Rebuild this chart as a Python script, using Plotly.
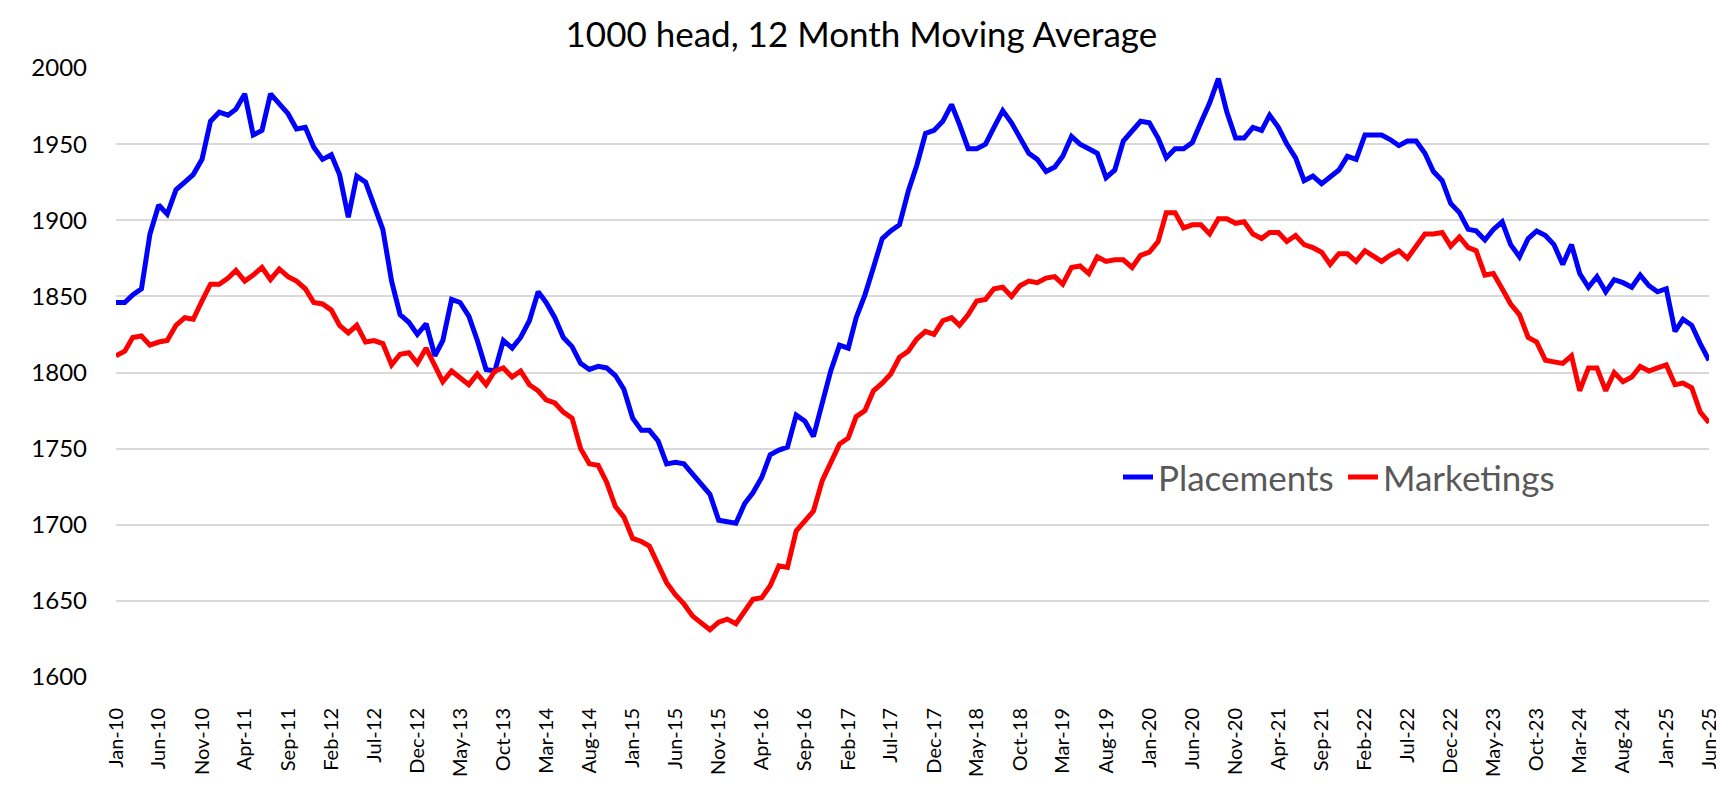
import pandas as pd
import plotly.graph_objects as go

# monthly, Jan-2010 .. Jun-2025 (12 month moving average, 1000 head)
start_month = "2010-01-01"

placements = [
    1846, 1846, 1851, 1855, 1891, 1910, 1904, 1920, 1925, 1930, 1940, 1965,
    1971, 1969, 1973, 1983, 1956, 1959, 1983, 1976, 1970, 1960, 1961, 1948,
    1940, 1943, 1930, 1902, 1929, 1925, 1910, 1894, 1860, 1838, 1833, 1825,
    1832, 1811, 1821, 1848, 1846, 1837, 1821, 1802, 1801, 1821, 1816, 1823,
    1834, 1853, 1846, 1836, 1823, 1817, 1806, 1802, 1804, 1803, 1798, 1789,
    1770, 1762, 1762, 1755, 1740, 1741, 1740, 1733, 1726, 1720, 1703, 1702,
    1701, 1714, 1721, 1731, 1746, 1749, 1751, 1772, 1768, 1758, 1779, 1801,
    1818, 1816, 1836, 1851, 1869, 1888, 1893, 1897, 1919, 1936, 1957, 1959,
    1965, 1976, 1963, 1947, 1947, 1950, 1961, 1972, 1964, 1954, 1944, 1940,
    1932, 1935, 1942, 1955, 1950, 1947, 1944, 1928, 1933, 1952, 1959, 1965,
    1964, 1954, 1941, 1947, 1947, 1951, 1964, 1977, 1993, 1971, 1954, 1954,
    1961, 1959, 1969, 1961, 1950, 1941, 1926, 1929, 1924, 1928, 1933, 1942,
    1940, 1956, 1956, 1956, 1953, 1949, 1952, 1952, 1944, 1932, 1926, 1911,
    1905, 1894, 1893, 1887, 1894, 1899, 1884, 1876, 1888, 1893, 1890, 1884,
    1871, 1884, 1865, 1856, 1863, 1853, 1861, 1859, 1856, 1864, 1857, 1853,
    1855, 1827, 1835, 1831, 1819, 1808,
]

marketings = [
    1811, 1814, 1823, 1824, 1818, 1820, 1821, 1831, 1836, 1835, 1847, 1858,
    1858, 1862, 1867, 1860, 1864, 1869, 1861, 1868, 1863, 1860, 1855, 1846,
    1845, 1841, 1831, 1826, 1831, 1820, 1821, 1819, 1805, 1812, 1813, 1806,
    1816, 1805, 1794, 1801, 1797, 1792, 1799, 1792, 1801, 1803, 1797, 1801,
    1792, 1788, 1782, 1780, 1774, 1770, 1750, 1740, 1739, 1728, 1712, 1705,
    1691, 1689, 1686, 1674, 1662, 1654, 1648, 1640, 1635, 1631, 1636, 1638,
    1635, 1643, 1651, 1652, 1660, 1673, 1672, 1696, 1703, 1709, 1729, 1740,
    1753, 1757, 1771, 1775, 1788, 1793, 1799, 1810, 1814, 1822, 1827, 1825,
    1834, 1836, 1831, 1838, 1847, 1848, 1855, 1856, 1850, 1857, 1860, 1859,
    1862, 1863, 1858, 1869, 1870, 1865, 1876, 1873, 1874, 1874, 1869, 1877,
    1879, 1886, 1905, 1905, 1895, 1897, 1897, 1891, 1901, 1901, 1898, 1899,
    1891, 1888, 1892, 1892, 1886, 1890, 1884, 1882, 1879, 1871, 1878, 1878,
    1873, 1880, 1877, 1873, 1877, 1880, 1875, 1883, 1891, 1891, 1892, 1883,
    1889, 1882, 1880, 1864, 1865, 1855, 1845, 1838, 1823, 1820, 1808, 1807,
    1806, 1811, 1788, 1803, 1803, 1788, 1800, 1794, 1797, 1804, 1801, 1803,
    1805, 1792, 1793, 1790, 1774, 1767,
]

dates = pd.date_range(start_month, periods=len(placements), freq="MS")
tick_dates = dates[::5]
tick_labels = [d.strftime("%b-%y") for d in tick_dates]
y_ticks = [1600, 1650, 1700, 1750, 1800, 1850, 1900, 1950, 2000]

font = "Lato, Calibri, Arial, sans-serif"

fig = go.Figure()
fig.add_trace(go.Scatter(x=dates, y=placements, name="Placements", mode="lines",
                         line=dict(color="#0000FF", width=5)))
fig.add_trace(go.Scatter(x=dates, y=marketings, name="Marketings", mode="lines",
                         line=dict(color="#FF0000", width=5)))

fig.update_layout(
    width=1724, height=794,
    margin=dict(l=108, r=12, t=60, b=125),
    paper_bgcolor="white", plot_bgcolor="white",
    font=dict(family=font, color="#000000"),
    title=dict(text="1000 head, 12 Month Moving Average", x=0.495, xanchor="center",
               y=0.966, yanchor="middle", yref="container",
               font=dict(size=35, color="#000000")),
    showlegend=True,
    legend=dict(orientation="h", x=0.629, xanchor="left", y=0.328, yanchor="middle",
                font=dict(size=35, color="#595959"), bgcolor="rgba(0,0,0,0)",
                entrywidth=180, entrywidthmode="pixels"),
)
fig.update_xaxes(range=[dates[0], dates[-1]], tickvals=tick_dates, ticktext=tick_labels,
                 tickangle=-90, tickfont=dict(size=20), showgrid=False, zeroline=False,
                 showline=False, ticks="", ticklabelstandoff=26)
fig.update_yaxes(range=[1600, 2000], tickvals=y_ticks, tickfont=dict(size=24),
                 showgrid=True, gridcolor="#D9D9D9", gridwidth=1.5, zeroline=False,
                 showline=False, ticks="", ticklabelstandoff=28)

fig.write_html("out.html")
